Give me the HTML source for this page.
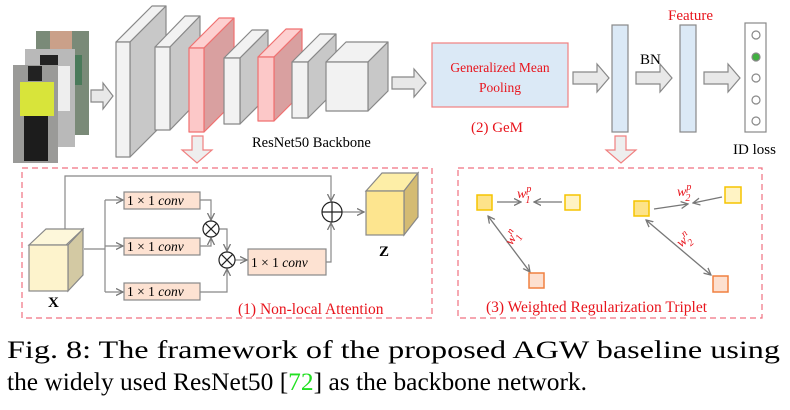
<!DOCTYPE html>
<html><head><meta charset="utf-8"><style>
html,body{margin:0;padding:0;background:#fff;}
svg{display:block;}
text{font-family:"Liberation Serif",serif;}
</style></head><body>
<svg width="790" height="410" viewBox="0 0 790 410" xmlns="http://www.w3.org/2000/svg">
<defs>
<marker id="ar" markerWidth="8" markerHeight="8" refX="7" refY="4" orient="auto" markerUnits="userSpaceOnUse"><path d="M0,0.5 L7,4 L0,7.5" fill="none" stroke="#777" stroke-width="1.3"/></marker>
<marker id="ar2" markerWidth="8" markerHeight="8" refX="1" refY="4" orient="auto" markerUnits="userSpaceOnUse"><path d="M8,0.5 L1,4 L8,7.5" fill="none" stroke="#777" stroke-width="1.3"/></marker>
</defs>
<!-- person images -->
<rect x="36" y="31" width="53" height="104" fill="#7a8a78"/>
<rect x="50" y="31" width="22" height="25" fill="#caa089"/>
<rect x="42" y="55" width="40" height="30" fill="#4a7a5a"/>
<rect x="25" y="49" width="50" height="98" fill="#b9b9b9"/>
<rect x="40" y="55" width="18" height="40" fill="#222"/>
<rect x="56" y="66" width="14" height="45" fill="#eee"/>
<rect x="13" y="65" width="45" height="98" fill="#9a9a98"/>
<rect x="28" y="66" width="14" height="15" fill="#222"/>
<rect x="20" y="82" width="34" height="34" fill="#d8e43a"/>
<rect x="24" y="116" width="24" height="45" fill="#1c1c1c"/>
<!-- hollow arrows -->
<g fill="#e8e8e8" stroke="#888" stroke-width="1.2">
<path d="M91,90 h12 v-7 l10,13 l-10,13 v-7 h-12z"/>
<path d="M392,77 h22 v-8 l12,14 l-12,14 v-8 h-22z"/>
<path d="M573,72 h24 v-8 l12,14 l-12,14 v-8 h-24z"/>
<path d="M636,72 h24 v-8 l12,14 l-12,14 v-8 h-24z"/>
<path d="M704,72 h24 v-8 l12,14 l-12,14 v-8 h-24z"/>
</g>
<g fill="#eee" stroke="#f08080" stroke-width="1.2">
<path d="M192,136 h11 v14 h9 l-15,13 l-15,-13 h10z"/>
<path d="M615,136 h11 v14 h10 l-15,13 l-15,-13 h9z"/>
</g>
<!-- slabs -->
<g stroke="#888" stroke-width="1.2" stroke-linejoin="round">
<path d="M116,42 l36,-36 h14 l-36,36z" fill="#f2f2f2"/><path d="M130,42 l36,-36 v115 l-36,36z" fill="#c8c8c8"/><rect x="116" y="42" width="14" height="115" fill="#f2f2f2"/>
<path d="M155,47 l30,-31 h15 l-30,31z" fill="#f2f2f2"/><path d="M170,47 l30,-31 v83 l-30,31z" fill="#c8c8c8"/><rect x="155" y="47" width="15" height="83" fill="#f2f2f2"/>
<g stroke="#f07070"><path d="M189,48 l30,-30 h15 l-30,30z" fill="#fdd0d0"/><path d="M204,48 l30,-30 v84 l-30,30z" fill="#d9a0a0"/><rect x="189" y="48" width="15" height="84" fill="#fcc8c8"/></g>
<path d="M224,58 l28,-28 h16 l-28,28z" fill="#f2f2f2"/><path d="M240,58 l28,-28 v66 l-28,28z" fill="#c8c8c8"/><rect x="224" y="58" width="16" height="66" fill="#f2f2f2"/>
<g stroke="#f07070"><path d="M258,57 l28,-28 h16 l-28,28z" fill="#fdd0d0"/><path d="M274,57 l28,-28 v64 l-28,28z" fill="#d9a0a0"/><rect x="258" y="57" width="16" height="64" fill="#fcc8c8"/></g>
<path d="M292,62 l28,-28 h16 l-28,28z" fill="#f2f2f2"/><path d="M308,62 l28,-28 v56 l-28,28z" fill="#c8c8c8"/><rect x="292" y="62" width="16" height="56" fill="#f2f2f2"/>
<path d="M326,62 l20,-20 h42 l-20,20z" fill="#f2f2f2"/><path d="M368,62 l20,-20 v49 l-20,20z" fill="#c8c8c8"/><rect x="326" y="62" width="42" height="49" fill="#f2f2f2"/>
</g>
<text x="252" y="147" font-size="14.5">ResNet50 Backbone</text>
<!-- GeM -->
<rect x="432" y="43" width="136" height="64" fill="#dbe9f6" stroke="#f08080" stroke-width="1.2"/>
<text x="500" y="72" font-size="13.5" fill="#e8141c" text-anchor="middle">Generalized Mean</text>
<text x="500" y="92" font-size="13.5" fill="#e8141c" text-anchor="middle">Pooling</text>
<text x="497" y="132" font-size="15" fill="#e8141c" text-anchor="middle">(2) GeM</text>
<rect x="612" y="25" width="16" height="107" fill="#dbe9f6" stroke="#888" stroke-width="1.2"/>
<rect x="680" y="25" width="16" height="107" fill="#dbe9f6" stroke="#888" stroke-width="1.2"/>
<text x="640" y="64" font-size="15">BN</text>
<text x="668" y="20" font-size="15" fill="#e8141c">Feature</text>
<rect x="745" y="23" width="21" height="109" fill="#fff" stroke="#888" stroke-width="1.2"/>
<g stroke="#888" stroke-width="1.2" fill="#fff"><circle cx="756" cy="35" r="4"/><circle cx="756" cy="57" r="4" fill="#40b040"/><circle cx="756" cy="78" r="4"/><circle cx="756" cy="100" r="4"/><circle cx="756" cy="121" r="4"/></g>
<text x="733" y="154" font-size="15">ID loss</text>
<!-- dashed boxes -->
<rect x="22" y="168" width="410" height="150" fill="none" stroke="#f07080" stroke-width="1.2" stroke-dasharray="6,4"/>
<rect x="458" y="168" width="304" height="150" fill="none" stroke="#f07080" stroke-width="1.2" stroke-dasharray="6,4"/>
<!-- non-local -->
<g stroke="#888" stroke-width="1.2" fill="none">
<path d="M65,230 V176 H331 V201" marker-end="url(#ar)"/>
<path d="M84,249 H105"/>
<path d="M105,200 V292"/>
<path d="M105,200 H123" marker-end="url(#ar)"/>
<path d="M105,246 H123" marker-end="url(#ar)"/>
<path d="M105,292 H123" marker-end="url(#ar)"/>
<path d="M200,200 H211 V220" marker-end="url(#ar)"/>
<path d="M200,246 H211 V238" marker-end="url(#ar)"/>
<path d="M219,229 H227 V251" marker-end="url(#ar)"/>
<path d="M200,292 H227 V269" marker-end="url(#ar)"/>
<path d="M235,260 H247" marker-end="url(#ar)"/>
<path d="M326,262 H331 V223" marker-end="url(#ar)"/>
<path d="M342,212 H364" marker-end="url(#ar)"/>
</g>
<g stroke="#888" stroke-width="1.2">
<path d="M29,245 l17,-16 h37 l-17,16z" fill="#fdf7da"/><path d="M68,245 l15,-16 v46 l-15,16z" fill="#d3c9a3"/><rect x="29" y="245" width="39" height="46" fill="#fdf3cc"/>
<path d="M366,191 l16,-18 h36 l-14,18z" fill="#fdeea7"/><path d="M404,191 l14,-18 v44 l-14,18z" fill="#d4bb73"/><rect x="366" y="191" width="38" height="44" fill="#fde58f"/>
</g>
<text x="48" y="307" font-size="15" font-weight="bold">X</text>
<text x="379" y="256" font-size="15" font-weight="bold">Z</text>
<g fill="#fde2d2" stroke="#888" stroke-width="1.2">
<rect x="124" y="192" width="76" height="17"/><rect x="124" y="238" width="76" height="17"/><rect x="124" y="283" width="76" height="17"/><rect x="248" y="249" width="78" height="26"/>
</g>
<g font-size="13.5">
<text x="127" y="205">1 × 1 <tspan font-style="italic">conv</tspan></text>
<text x="127" y="251">1 × 1 <tspan font-style="italic">conv</tspan></text>
<text x="127" y="296">1 × 1 <tspan font-style="italic">conv</tspan></text>
<text x="251" y="267">1 × 1 <tspan font-style="italic">conv</tspan></text>
</g>
<g stroke="#222" stroke-width="1.2" fill="#fff">
<circle cx="211" cy="229" r="8"/><path d="M205.3,223.3 l11.4,11.4 M216.7,223.3 l-11.4,11.4"/>
<circle cx="227" cy="260" r="8"/><path d="M221.3,254.3 l11.4,11.4 M232.7,254.3 l-11.4,11.4"/>
<circle cx="332" cy="212" r="10"/><path d="M322,212 h20 M332,202 v20"/>
</g>
<text x="238" y="314" font-size="15.5" fill="#e8141c">(1) Non-local Attention</text>
<!-- triplet -->
<g stroke="#777" stroke-width="1.3" fill="none">
<path d="M497,202 H521" marker-end="url(#ar)"/>
<path d="M562,202 H534" marker-end="url(#ar)"/>
<path d="M488,216 L530,272" marker-start="url(#ar2)" marker-end="url(#ar)"/>
<path d="M654,209 L688,204" marker-end="url(#ar)"/>
<path d="M722,197 L693,203" marker-end="url(#ar)"/>
<path d="M646,220 L711,275" marker-start="url(#ar2)" marker-end="url(#ar)"/>
</g>
<g stroke-width="1.5">
<rect x="477" y="195" width="15" height="15" fill="#fde38a" stroke="#f5c400"/>
<rect x="565" y="195" width="15" height="15" fill="#fff3c4" stroke="#f5c400"/>
<rect x="634" y="201" width="15" height="15" fill="#fde38a" stroke="#f5c400"/>
<rect x="725" y="187" width="16" height="16" fill="#fff3c4" stroke="#f5c400"/>
<rect x="529" y="273" width="15" height="15" fill="#fde0d0" stroke="#f08040"/>
<rect x="713" y="276" width="15" height="16" fill="#fde0d0" stroke="#f08040"/>
</g>
<g fill="#e8141c" font-style="italic" font-size="14">
<text x="517" y="198">w<tspan font-size="10" dy="-6">p</tspan><tspan font-size="10" dx="-6" dy="11">1</tspan></text>
<text x="677" y="196">w<tspan font-size="10" dy="-6">p</tspan><tspan font-size="10" dx="-6" dy="11">2</tspan></text>
<text transform="translate(512,246) rotate(-60)">w<tspan font-size="10" dy="-6">n</tspan><tspan font-size="10" dx="-6" dy="11">1</tspan></text>
<text transform="translate(681,248) rotate(-40)">w<tspan font-size="10" dy="-6">n</tspan><tspan font-size="10" dx="-6" dy="11">2</tspan></text>
</g>
<text x="486" y="312" font-size="15.5" fill="#e8141c">(3) Weighted Regularization Triplet</text>
<!-- caption -->
<text x="7" y="358" font-size="25" textLength="773" lengthAdjust="spacingAndGlyphs">Fig. 8: The framework of the proposed AGW baseline using</text>
<text x="7" y="390" font-size="25" textLength="580" lengthAdjust="spacingAndGlyphs">the widely used ResNet50 [<tspan fill="#22e022">72</tspan>] as the backbone network.</text>
</svg>
</body></html>
